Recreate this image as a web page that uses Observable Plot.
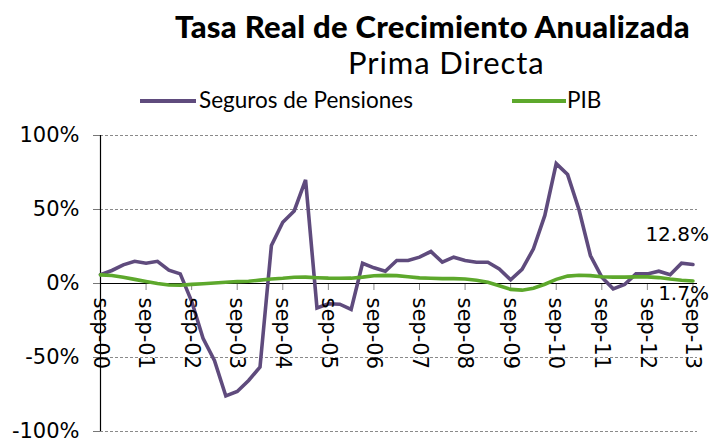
<!DOCTYPE html>
<html><head><meta charset="utf-8">
<script src="https://cdn.jsdelivr.net/npm/d3@7"></script>
<script src="https://cdn.jsdelivr.net/npm/@observablehq/plot@0.6"></script>
<style>
body{margin:0;background:#fff;}
#wrap{width:710px;position:relative;}
#head{position:relative;height:120px;font-family:Lato,"Open Sans",sans-serif;color:#000;}
.t{position:absolute;white-space:nowrap;line-height:1;}
.sw{position:absolute;height:4px;}
</style></head><body>
<div id="wrap">
<div id="head">
  <div class="t" id="title" style="left:175px;top:11px;font-size:31px;font-weight:900;letter-spacing:0.3px;line-height:30px;">Tasa Real de Crecimiento Anualizada</div>
  <div class="t" id="subtitle" style="left:348px;top:47px;font-size:31px;letter-spacing:0.9px;line-height:30px;">Prima Directa</div>
  <div class="sw" id="sw0" style="left:140px;top:99px;width:56px;"></div>
  <div class="t" id="lg0" style="left:199px;top:89px;font-size:22.5px;"></div>
  <div class="sw" id="sw1" style="left:512px;top:99px;width:54px;"></div>
  <div class="t" id="lg1" style="left:567px;top:89px;font-size:22.5px;"></div>
</div>
<div id="chart"></div>
</div>
<script>
// Series names and colours
const seriesNames = ["Seguros de Pensiones", "PIB"];
const seriesColors = ["#5f4b7d", "#5da82c"];

// Quarterly real annualised growth (%), sep-00 ... sep-13
const pensiones = [6, 8.8, 12.6, 15, 13.7, 15, 9, 6.5,
  -12, -37, -52, -76, -73, -65.5, -56.5, 25.7,
  41.4, 49, 70, -16.5, -13.7, -14, -17.5, 13.7,
  10.6, 8.3, 15.5, 15.5, 17.8, 21.6, 14.4, 17.8,
  15.5, 14.4, 14.4, 9.9, 2.5, 9.5, 23.4, 46,
  81, 73.6, 49.8, 18.9, 4.3, -3.6, -0.7, 6.5,
  6.5, 8.3, 5.9, 13.7, 12.8];
const pib = [5.8, 5.4, 4.2, 2.8, 1.4, 0.0, -1.0, -1.2,
  -0.6, -0.2, 0.3, 0.8, 1.3, 1.5, 2.3, 3.0,
  3.5, 4.2, 4.3, 3.9, 3.6, 3.5, 3.6, 4.3,
  5.2, 5.5, 5.3, 4.6, 3.8, 3.5, 3.3, 3.3,
  3.0, 2.2, 0.8, -1.5, -4.0, -4.5, -3.2, -0.5,
  2.8, 5.0, 5.6, 5.3, 4.6, 4.3, 4.3, 4.5,
  4.5, 4.0, 3.0, 2.2, 1.7];

// Tick labels
const yearLabels = ["sep-00","sep-01","sep-02","sep-03","sep-04","sep-05","sep-06",
  "sep-07","sep-08","sep-09","sep-10","sep-11","sep-12","sep-13"];
const yTicks = [-100, -50, 0, 50, 100];
const endLabels = ["12.8%", "1.7%"];

// header texts
document.getElementById("lg0").textContent = seriesNames[0];
document.getElementById("lg1").textContent = seriesNames[1];
document.getElementById("sw0").style.background = seriesColors[0];
document.getElementById("sw1").style.background = seriesColors[1];

const rows = [
  ...pensiones.map((v, i) => ({i, v: v / 100, s: seriesNames[0]})),
  ...pib.map((v, i) => ({i, v: v / 100, s: seriesNames[1]}))
];
const yearTicks = yearLabels.map((label, k) => ({label, i: k * 4}));
const last = pensiones.length - 1;
const endTop = [{text: endLabels[0], i: last, v: pensiones[last] / 100}];
const endBottom = [{text: endLabels[1], i: last, v: pib[last] / 100}];

const chart = Plot.plot({
  width: 710,
  height: 318,
  marginLeft: 100,
  marginRight: 13,
  marginTop: 15,
  marginBottom: 7,
  x: {domain: [0, 52.4], axis: null},
  y: {domain: [-1, 1], axis: null},
  color: {domain: seriesNames, range: seriesColors},
  style: {fontFamily: "DejaVu Sans", background: "white", color: "#000", overflow: "visible"},
  marks: [
    Plot.ruleY(yTicks.filter(d => d !== 0).map(d => d / 100), {stroke: "#8a8a8a", strokeDasharray: "3,2", strokeWidth: 1}),
    Plot.axisY(yTicks.map(d => d / 100), {
      tickSize: 7, tickPadding: 14, fontSize: 21, stroke: "#777",
      tickFormat: d => Math.round(d * 100) + "%", label: null
    }),
    Plot.ruleX(yearTicks, {x: "i", y1: 0, y2: 0, insetBottom: -7, stroke: "#888"}),
    Plot.ruleX([0], {stroke: "#000", strokeWidth: 1.2}),
    Plot.ruleY([0], {stroke: "#000", strokeWidth: 1.2}),
    Plot.line(rows, {x: "i", y: "v", z: "s", stroke: "s", strokeWidth: 3.6, strokeLinejoin: "miter", strokeMiterlimit: 4}),
    Plot.text(yearTicks, {x: "i", y: () => 0, text: "label", rotate: 90, textAnchor: "start", dy: 14, fontSize: 21, fill: "#000"}),
    Plot.text(endTop, {x: "i", y: "v", text: "text", textAnchor: "end", dx: 16, dy: -30, fontSize: 20, fill: "#000"}),
    Plot.text(endBottom, {x: "i", y: "v", text: "text", textAnchor: "end", dx: 16, dy: 13, fontSize: 20, fill: "#000"})
  ]
});
document.getElementById("chart").appendChild(chart);
</script>
</body></html>
